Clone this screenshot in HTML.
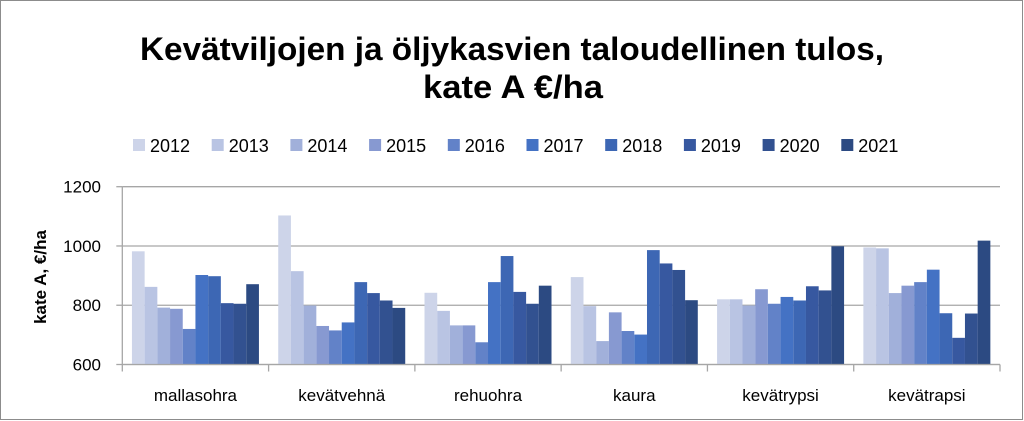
<!DOCTYPE html>
<html><head><meta charset="utf-8"><style>
html,body{margin:0;padding:0;background:#fff;}
svg{display:block;font-family:"Liberation Sans",sans-serif;}
</style></head><body>
<svg id="chart" width="1024" height="421" viewBox="0 0 1024 421">
<rect x="0.5" y="0.5" width="1022" height="419" fill="#fff" stroke="#8c8c8c"/>
<text x="512" y="60" text-anchor="middle" font-size="32" font-weight="bold" textLength="744" lengthAdjust="spacingAndGlyphs">Kevätviljojen ja öljykasvien taloudellinen tulos,</text>
<text x="513" y="98" text-anchor="middle" font-size="32" font-weight="bold" textLength="180" lengthAdjust="spacingAndGlyphs">kate A €/ha</text>
<g id="legend"></g>
<g id="grid"></g>
<g id="bars"></g>
<g id="axes"></g>
<text transform="translate(46,277) rotate(-90)" text-anchor="middle" font-size="17" font-weight="bold">kate A, €/ha</text>
</svg>
<script>
const categories = ["mallasohra","kevätvehnä","rehuohra","kaura","kevätrypsi","kevätrapsi"];
const years = ["2012","2013","2014","2015","2016","2017","2018","2019","2020","2021"];
const v2012 = [982,1103,842,895,820,995];
const v2013 = [862,915,781,797,820,992];
const v2014 = [792,799,732,679,799,841];
const v2015 = [788,730,732,776,854,866];
const v2016 = [720,715,675,713,805,878];
const v2017 = [902,742,878,701,828,920];
const v2018 = [898,878,966,986,816,773];
const v2019 = [807,841,845,941,864,690];
const v2020 = [805,816,805,919,850,772];
const v2021 = [871,791,866,817,999,1018];
const yTicks = [600,800,1000,1200];
const series = [v2012,v2013,v2014,v2015,v2016,v2017,v2018,v2019,v2020,v2021];
const colors = ["#CDD4E9","#B9C4E3","#A1B0DA","#8799D1","#6282C8","#4472C4","#3D67B4","#3758A0","#325190","#2C4A82"];
const NS="http://www.w3.org/2000/svg";
const X0=122.3, X1=1000, Y0=364.5, Y1=186.7, VMIN=600, VMAX=1200;
const gw=(X1-X0)/categories.length, bw=12.7, pad=(gw-bw*series.length)/2;
function y(v){return Y0-(v-VMIN)/(VMAX-VMIN)*(Y0-Y1);}
function mk(tag,attrs,parent){const e=document.createElementNS(NS,tag);for(const k in attrs)e.setAttribute(k,attrs[k]);parent.appendChild(e);return e;}
const grid=document.getElementById('grid'), bars=document.getElementById('bars'), axes=document.getElementById('axes'), legend=document.getElementById('legend');
yTicks.forEach(t=>{
  const l=mk('line',{x1:X0,x2:X1,y1:y(t),y2:y(t),stroke:'#a6a6a6','stroke-width':1.3},grid);
  
  
  const tk=mk('line',{x1:X0-6,x2:X0,y1:y(t),y2:y(t),stroke:'#a6a6a6','stroke-width':1.3},axes);
  
  
  const tx=mk('text',{x:101,y:y(t)+6,'text-anchor':'end','font-size':17},axes);
  tx.textContent=t;
  
  
});
series.forEach((s,si)=>{
  s.forEach((v,ci)=>{
    const r=mk('rect',{x:X0+ci*gw+pad+si*bw,y:y(v),width:bw,height:Y0-y(v),fill:colors[si]},bars);
    
    
  });
});
const ya=mk('line',{x1:X0,x2:X0,y1:Y1,y2:Y0,stroke:'#a6a6a6','stroke-width':1.3},axes);


const xa=mk('line',{x1:X0,x2:X1,y1:Y0,y2:Y0,stroke:'#a6a6a6','stroke-width':1.3},axes);


for(let i=0;i<=categories.length;i++){
  const t=mk('line',{x1:X0+i*gw,x2:X0+i*gw,y1:Y0,y2:Y0+7,stroke:'#a6a6a6','stroke-width':1.3},axes);
  
  
}
categories.forEach((c,ci)=>{
  const t=mk('text',{x:X0+ci*gw+gw/2,y:401,'text-anchor':'middle','font-size':17},axes);
  t.textContent=c;
  
  
});
years.forEach((yr,i)=>{
  const gx=133+i*78.7;
  const g=mk('g',{},legend);
  
  
  mk('rect',{x:gx,y:139,width:12,height:12,fill:colors[i]},g);
  const t=mk('text',{x:gx+17,y:152,'font-size':18},g);
  t.textContent=yr;
});
</script>
</body></html>
